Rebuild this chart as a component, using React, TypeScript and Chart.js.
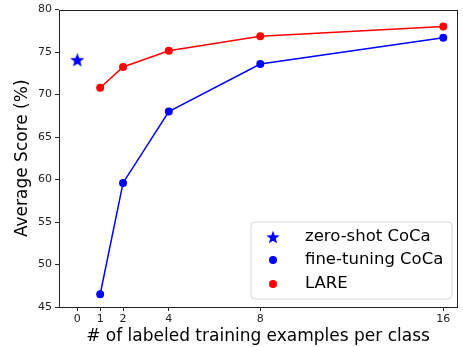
import React, { useEffect, useRef } from "react";
import { Chart, registerables } from "chart.js";

Chart.register(...registerables);

const xTicks = [0, 1, 2, 4, 8, 16];
const yTicks = [45, 50, 55, 60, 65, 70, 75, 80];
const shots = [1, 2, 4, 8, 16];
const zeroShotX = [0];
const zeroShotY = [74.1];
const fineTuning = [46.5, 59.6, 68.0, 73.6, 76.7];
const lare = [70.8, 73.25, 75.15, 76.85, 78.0];
const seriesLabels = ["zero-shot CoCa", "fine-tuning CoCa", "LARE"];

const FONT = "'DejaVu Sans', sans-serif";

function starPath(ctx: CanvasRenderingContext2D, cx: number, cy: number, r: number) {
  const inner = r * 0.42;
  ctx.beginPath();
  for (let i = 0; i < 10; i++) {
    const rad = i % 2 === 0 ? r : inner;
    const a = -Math.PI / 2 + (i * Math.PI) / 5;
    const x = cx + rad * Math.cos(a);
    const y = cy + rad * Math.sin(a);
    if (i === 0) ctx.moveTo(x, y);
    else ctx.lineTo(x, y);
  }
  ctx.closePath();
}

function makeStar(r: number, color: string) {
  const c = document.createElement("canvas");
  const s = Math.ceil(r * 2 + 2);
  c.width = s;
  c.height = s;
  const ctx = c.getContext("2d")!;
  ctx.fillStyle = color;
  starPath(ctx, s / 2, s / 2 + r * 0.1, r);
  ctx.fill();
  return c;
}

const framePlugin = {
  id: "frameAndLegend",
  afterDraw(chart: any) {
    const { ctx, chartArea } = chart;
    const { left, top, right, bottom } = chartArea;
    ctx.save();
    ctx.strokeStyle = "#222";
    ctx.lineWidth = 1;
    ctx.strokeRect(Math.round(left) + 0.5, Math.round(top) + 0.5, Math.round(right - left), Math.round(bottom - top));

    // legend
    const w = 201;
    const h = 77;
    const x0 = right - 5 - w;
    const y0 = bottom - 8 - h;
    const rr = 4;
    ctx.beginPath();
    ctx.moveTo(x0 + rr, y0);
    ctx.lineTo(x0 + w - rr, y0);
    ctx.quadraticCurveTo(x0 + w, y0, x0 + w, y0 + rr);
    ctx.lineTo(x0 + w, y0 + h - rr);
    ctx.quadraticCurveTo(x0 + w, y0 + h, x0 + w - rr, y0 + h);
    ctx.lineTo(x0 + rr, y0 + h);
    ctx.quadraticCurveTo(x0, y0 + h, x0, y0 + h - rr);
    ctx.lineTo(x0, y0 + rr);
    ctx.quadraticCurveTo(x0, y0, x0 + rr, y0);
    ctx.closePath();
    ctx.fillStyle = "rgba(255,255,255,0.85)";
    ctx.fill();
    ctx.strokeStyle = "#d6d6d6";
    ctx.lineWidth = 1;
    ctx.stroke();

    const rows = [y0 + 15, y0 + 38, y0 + 62];
    const mx = x0 + 22;
    const tx = x0 + 54;
    ctx.fillStyle = "blue";
    starPath(ctx, mx, rows[0] + 0.7, 7);
    ctx.fill();
    ctx.beginPath();
    ctx.arc(mx, rows[1], 4, 0, Math.PI * 2);
    ctx.fillStyle = "blue";
    ctx.fill();
    ctx.beginPath();
    ctx.arc(mx, rows[2], 4, 0, Math.PI * 2);
    ctx.fillStyle = "red";
    ctx.fill();

    ctx.fillStyle = "#000";
    ctx.font = `16.5px ${FONT}`;
    ctx.textBaseline = "middle";
    ctx.textAlign = "left";
    seriesLabels.forEach((t, i) => ctx.fillText(t, tx, rows[i]));
    ctx.restore();
  },
};

export default function App() {
  const ref = useRef<HTMLCanvasElement>(null);
  useEffect(() => {
    document.body.style.margin = "0";
    const star = makeStar(7.5, "blue");
    const chart = new Chart(ref.current!, {
      type: "scatter",
      data: {
        datasets: [
          {
            label: seriesLabels[0],
            data: zeroShotX.map((x, i) => ({ x, y: zeroShotY[i] })),
            pointStyle: star as any,
            showLine: false,
          },
          {
            label: seriesLabels[1],
            data: shots.map((x, i) => ({ x, y: fineTuning[i] })),
            showLine: true,
            borderColor: "blue",
            backgroundColor: "blue",
            borderWidth: 1.5,
            pointRadius: 4,
            pointBorderWidth: 0,
          },
          {
            label: seriesLabels[2],
            data: shots.map((x, i) => ({ x, y: lare[i] })),
            showLine: true,
            borderColor: "red",
            backgroundColor: "red",
            borderWidth: 1.5,
            pointRadius: 4,
            pointBorderWidth: 0,
          },
        ],
      },
      options: {
        responsive: false,
        animation: false,
        layout: { padding: { top: 8, right: 6, left: 0, bottom: 0 } },
        plugins: { legend: { display: false }, tooltip: { enabled: false } },
        scales: {
          x: {
            type: "linear",
            min: -0.8,
            max: 16.6,
            afterBuildTicks: (s: any) => {
              s.ticks = xTicks.map((v) => ({ value: v }));
            },
            afterFit: (s: any) => {
              s.height = 40;
            },
            grid: { drawOnChartArea: false, drawTicks: true, tickLength: 4, color: "#222" },
            border: { display: false },
            ticks: { color: "#222", font: { family: FONT, size: 11 }, padding: 2, maxRotation: 0, autoSkip: false },
            title: {
              display: true,
              text: "# of labeled training examples per class",
              color: "#000",
              font: { family: FONT, size: 17 },
              padding: { top: 0, bottom: 0 },
            },
          },
          y: {
            min: 45,
            max: 80,
            afterBuildTicks: (s: any) => {
              s.ticks = yTicks.map((v) => ({ value: v }));
            },
            afterFit: (s: any) => {
              s.width = 59;
            },
            grid: { drawOnChartArea: false, drawTicks: true, tickLength: 4, color: "#222" },
            border: { display: false },
            ticks: { color: "#222", font: { family: FONT, size: 11 }, padding: 3 },
            title: {
              display: true,
              text: "Average Score (%)",
              color: "#000",
              font: { family: FONT, size: 17 },
              padding: { top: 12, bottom: 0 },
            },
          },
        },
      },
      plugins: [framePlugin],
    });
    return () => chart.destroy();
  }, []);
  return <canvas ref={ref} width={463} height={347} style={{ display: "block" }} />;
}
